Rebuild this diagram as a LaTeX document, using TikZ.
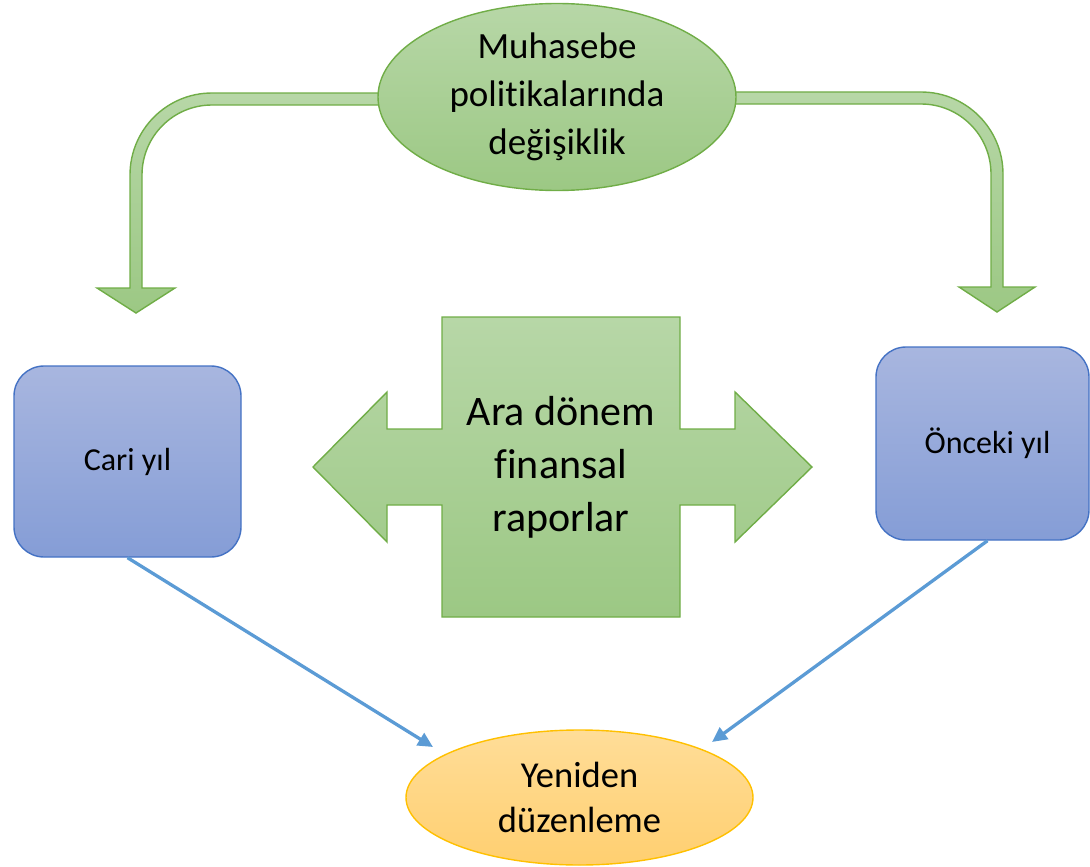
\documentclass[tikz,border=0pt]{standalone}
\usepackage{fontspec}
\setmainfont{Carlito}[Ligatures=NoCommon]
\usetikzlibrary{shapes.geometric,arrows.meta}
\definecolor{gborder}{RGB}{112,173,71}
\definecolor{gtop}{RGB}{183,215,167}
\definecolor{gbot}{RGB}{156,200,132}
\definecolor{bborder}{RGB}{68,114,196}
\definecolor{btop}{RGB}{168,182,223}
\definecolor{bbot}{RGB}{133,157,214}
\definecolor{oborder}{RGB}{255,192,0}
\definecolor{otop}{RGB}{255,221,152}
\definecolor{obot}{RGB}{255,207,112}
\definecolor{conn}{RGB}{91,155,213}
\tikzset{
  greenshape/.style={draw=gborder, line width=1.4pt, top color=gtop, bottom color=gbot, line join=miter},
  greenell/.style={ellipse, draw=gborder, line width=1.4pt, top color=gtop, bottom color=gbot, inner sep=0pt, align=center},
  bluebox/.style={rectangle, rounded corners=30pt, draw=bborder, line width=1.4pt, top color=btop, bottom color=bbot, inner sep=0pt, align=center},
  orangeell/.style={ellipse, draw=oborder, line width=1.4pt, top color=otop, bottom color=obot, inner sep=0pt, align=center},
  bluearrow/.style={draw=conn, line width=3.3pt, -{Triangle[length=15pt,width=14pt]}},
  labeltext/.style={text=black, align=center}
}
\begin{document}
\begin{tikzpicture}[x=1pt,y=-1pt]
\useasboundingbox (0,0) rectangle (1090,867);
% bent arrows (drawn beneath the top ellipse)
\path[greenshape] (420,93) -- (212,93) arc[start angle=270,end angle=180,radius=82]
  -- (130,288) -- (97,288) -- (136,313) -- (175,288) -- (142,288) -- (142,175)
  arc[start angle=180,end angle=270,radius=70] -- (420,105) -- cycle;
\path[greenshape] (700,92) -- (921,92) arc[start angle=270,end angle=360,radius=82]
  -- (1003,287) -- (1035,287) -- (997,312) -- (959,287) -- (991,287) -- (991,174)
  arc[start angle=0,end angle=-90,radius=70] -- (700,104) -- cycle;
% central double arrow with box
\path[greenshape] (313,467) -- (387,392) -- (387,429) -- (442,429) -- (442,317)
  -- (680,317) -- (680,429) -- (735,429) -- (735,392) -- (812,467) -- (735,542)
  -- (735,505) -- (680,505) -- (680,617) -- (442,617) -- (442,505) -- (387,505)
  -- (387,542) -- cycle;
\node[labeltext, font=\fontsize{42}{53}\selectfont] (ara) at (561,467) {Ara dönem\\finansal\\raporlar};
% top ellipse
\node[greenell, minimum width=358pt, minimum height=187pt, font=\fontsize{37}{48}\selectfont] (muh) at (557,97) {Muhasebe\\politikalarında\\değişiklik};
% boxes
\node[bluebox, minimum width=227pt, minimum height=191pt, font=\fontsize{32}{38}\selectfont] (cari) at (127.5,461.5) {Cari yıl};
\node[bluebox, minimum width=213pt, minimum height=193pt, font=\fontsize{32}{38}\selectfont] (onceki) at (982.5,443.5) {\hspace*{10pt}Önceki yıl};
% bottom ellipse
\node[orangeell, minimum width=347pt, minimum height=135pt, font=\fontsize{36.5}{45}\selectfont] (yeni) at (579.5,797.5) {Yeniden\\düzenleme};
% connectors
\coordinate (t1) at (433,747);
\coordinate (t2) at (712,742);
\draw[bluearrow] (cari.south) -- (t1);
\draw[bluearrow] (onceki.south) ++(5,0) coordinate (s2) (s2) -- (t2);
\end{tikzpicture}
\end{document}
